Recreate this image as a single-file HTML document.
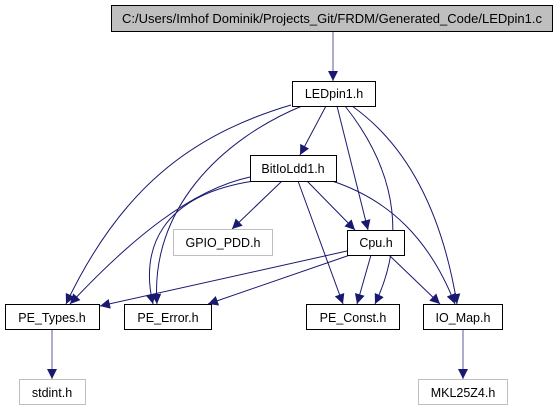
<!DOCTYPE html>
<html><head><meta charset="utf-8"><style>
html,body{margin:0;padding:0;background:#fff;width:557px;height:411px;overflow:hidden}
svg text{font-family:"Liberation Sans",Arial,sans-serif;font-size:12.5px;text-anchor:middle}
</style></head><body>
<svg width="557" height="411" viewBox="0 0 557 411" xmlns="http://www.w3.org/2000/svg">
<defs>
<marker id="a" viewBox="0 0 10 10" refX="10" refY="5" markerWidth="10" markerHeight="10" orient="auto" markerUnits="userSpaceOnUse">
<path d="M0,0 L10,5 L0,10 z" fill="#191970"/></marker>
</defs>
<g fill="none" stroke="#191970" stroke-width="1" marker-end="url(#a)">
<path d="M333,31 L333,81" stroke="#5a5a9a"/>
<path d="M326,106 L300,155"/>
<path d="M291,105 C190,135 120,190 66,304"/>
<path d="M302,106 C220,140 150,210 157,304"/>
<path d="M337,106 L368,230"/>
<path d="M345,106 C380,150 415,220 375,304"/>
<path d="M352,106 C400,140 440,200 457,304"/>
<path d="M250,177 C190,190 130,240 70,304"/>
<path d="M254,181 C160,195 140,250 153,304"/>
<path d="M282,181 L232,229"/>
<path d="M298,181 L343,304"/>
<path d="M307,181 L355,230"/>
<path d="M332,181 C390,200 430,240 455,304"/>
<path d="M347,251 L100,306"/>
<path d="M350,255 L208,304"/>
<path d="M371,255 L357,304"/>
<path d="M389,255 L440,304"/>
<path d="M52,329 L52,379" stroke="#5a5a9a"/>
<path d="M463,329 L463,379" stroke="#5a5a9a"/>
</g>
<g stroke-width="1">
<rect x="111.5" y="5.5" width="441" height="26" fill="#bfbfbf" stroke="#000"/>
<rect x="292.5" y="81.5" width="83" height="25" fill="#fff" stroke="#000"/>
<rect x="250.5" y="155.5" width="86" height="26" fill="#fff" stroke="#000"/>
<rect x="173.5" y="229.5" width="99" height="26" fill="#fff" stroke="#bfbfbf"/>
<rect x="347.5" y="230.5" width="57" height="25" fill="#fff" stroke="#000"/>
<rect x="5.5" y="304.5" width="94" height="25" fill="#fff" stroke="#000"/>
<rect x="124.5" y="304.5" width="87" height="25" fill="#fff" stroke="#000"/>
<rect x="306.5" y="304.5" width="93" height="25" fill="#fff" stroke="#000"/>
<rect x="423.5" y="304.5" width="79" height="25" fill="#fff" stroke="#000"/>
<rect x="19.5" y="379.5" width="66" height="25" fill="#fff" stroke="#bfbfbf"/>
<rect x="418.5" y="379.5" width="89" height="25" fill="#fff" stroke="#bfbfbf"/>
</g>
<g fill="#000">
<text x="332" y="23" textLength="420" lengthAdjust="spacingAndGlyphs">C:/Users/Imhof Dominik/Projects_Git/FRDM/Generated_Code/LEDpin1.c</text>
<text x="334" y="98">LEDpin1.h</text>
<text x="293" y="173">BitIoLdd1.h</text>
<text x="223" y="247">GPIO_PDD.h</text>
<text x="376" y="247">Cpu.h</text>
<text x="52" y="322">PE_Types.h</text>
<text x="168" y="322">PE_Error.h</text>
<text x="353" y="322">PE_Const.h</text>
<text x="463" y="322">IO_Map.h</text>
<text x="52" y="397">stdint.h</text>
<text x="463" y="397">MKL25Z4.h</text>
</g>
</svg>
</body></html>
